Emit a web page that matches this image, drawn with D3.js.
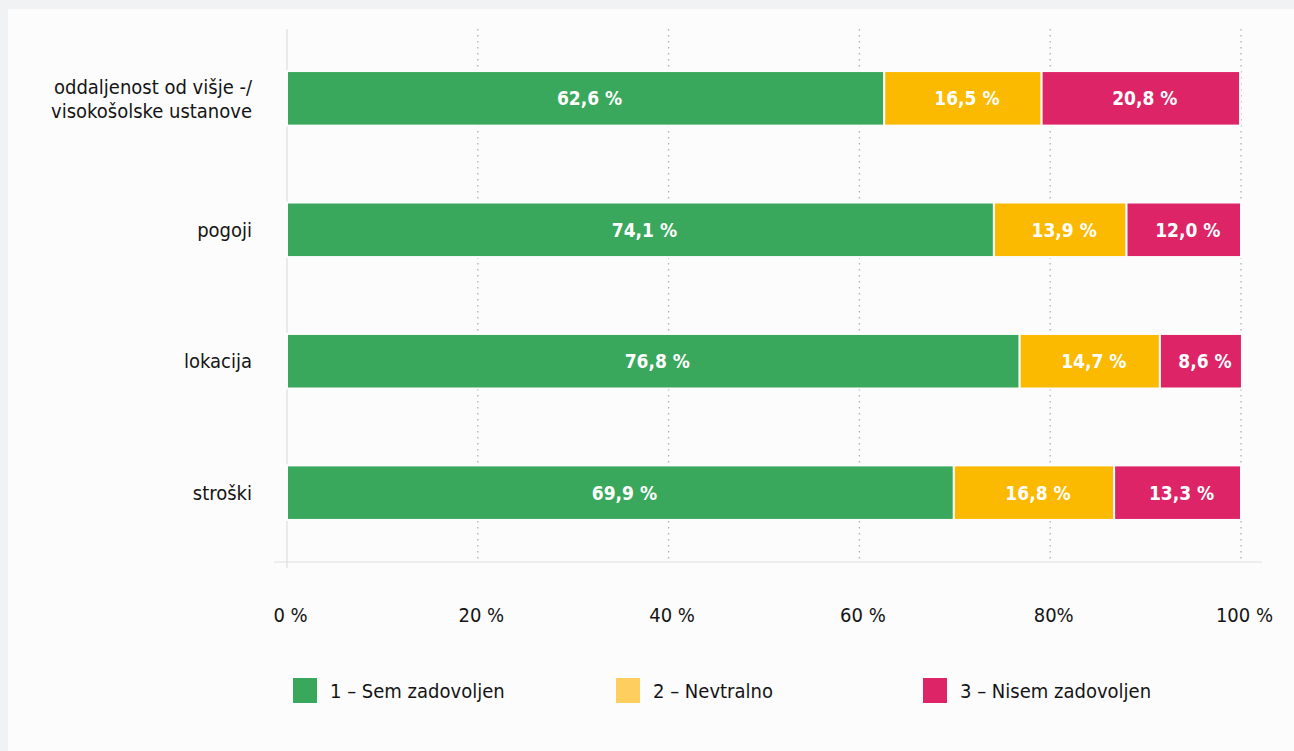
<!DOCTYPE html>
<html>
<head>
<meta charset="utf-8">
<script src="https://cdn.jsdelivr.net/npm/d3@7"></script>
<style>
  html, body { margin: 0; padding: 0; background: #f1f2f4; }
  body { width: 1294px; height: 751px; overflow: hidden; }
  svg { display: block; }
  text { font-family: "DejaVu Sans Condensed", "DejaVu Sans", "Noto Sans", sans-serif; }
</style>
</head>
<body>
<svg id="chart" width="1294" height="751"></svg>
<script>
// Satisfaction with student accommodation, by aspect (shares in %)
const categories = [
  ["oddaljenost od višje -/", "visokošolske ustanove"],
  ["pogoji"],
  ["lokacija"],
  ["stroški"]
];
const seriesNames = ["1 – Sem zadovoljen", "2 – Nevtralno", "3 – Nisem zadovoljen"];
const satisfied    = [62.6, 74.1, 76.8, 69.9];
const neutral      = [16.5, 13.9, 14.7, 16.8];
const dissatisfied = [20.8, 12.0, 8.6, 13.3];
const tickValues = [0, 20, 40, 60, 80, 100];
const tickLabels = ["0 %", "20 %", "40 %", "60 %", "80%", "100 %"];

const barColors    = ["#3aa85c", "#fbb900", "#dd2467"];
const legendColors = ["#3aa85c", "#fecf5e", "#dd2467"];

const keys = ["satisfied", "neutral", "dissatisfied"];
const rows = categories.map((c, i) => ({
  id: c.join(" "),
  lines: c,
  satisfied: satisfied[i],
  neutral: neutral[i],
  dissatisfied: dissatisfied[i]
}));

const svg = d3.select("#chart");

// white card
svg.append("rect")
  .attr("x", 8).attr("y", 9)
  .attr("width", 1294 - 8).attr("height", 751 - 9)
  .attr("fill", "#fcfcfc");

const plot = { left: 287, right: 1241, top: 29, bottom: 562 };

const x = d3.scaleLinear().domain([0, 100]).range([plot.left, plot.right]);
const y = d3.scaleBand()
  .domain(rows.map(d => d.id))
  .range([plot.top, plot.bottom])
  .paddingInner(0.585)
  .paddingOuter(0.32);

// dotted vertical gridlines
svg.append("g")
  .selectAll("line")
  .data(tickValues.filter(v => v > 0))
  .join("line")
  .attr("x1", d => x(d)).attr("x2", d => x(d))
  .attr("y1", plot.top).attr("y2", plot.bottom)
  .attr("stroke", "#b3b5b8")
  .attr("stroke-width", 1.4)
  .attr("stroke-dasharray", "1.5,4.5");

// zero line and baseline
svg.append("line")
  .attr("x1", x(0)).attr("x2", x(0))
  .attr("y1", plot.top).attr("y2", plot.bottom + 6)
  .attr("stroke", "#dcdde0").attr("stroke-width", 1.2);
svg.append("line")
  .attr("x1", 274).attr("x2", 1262)
  .attr("y1", plot.bottom).attr("y2", plot.bottom)
  .attr("stroke", "#dcdde0").attr("stroke-width", 1.2);

// stacked bars
const stack = d3.stack().keys(keys)(rows);

const layers = svg.append("g")
  .selectAll("g")
  .data(stack)
  .join("g")
  .attr("fill", (d, i) => barColors[i]);

layers.selectAll("rect")
  .data(d => d)
  .join("rect")
  .attr("x", d => x(d[0]))
  .attr("y", d => y(d.data.id))
  .attr("width", d => x(d[1]) - x(d[0]))
  .attr("height", y.bandwidth())
  .attr("stroke", "#fcfcfc")
  .attr("stroke-width", 2);

// value labels
const fmt = v => d3.format(".1f")(v).replace(".", ",") + " %";
layers.selectAll("text")
  .data(d => d.map(s => ({ s, key: d.key })))
  .join("text")
  .attr("x", d => (x(d.s[0]) + x(d.s[1])) / 2 + 4)
  .attr("y", d => y(d.s.data.id) + y.bandwidth() / 2)
  .attr("dy", "0.36em")
  .attr("text-anchor", "middle")
  .attr("fill", "#ffffff")
  .attr("font-size", 19)
  .attr("font-weight", "bold")
  .text(d => fmt(d.s.data[d.key]));

// category labels
const catG = svg.append("g")
  .selectAll("text")
  .data(rows)
  .join("text")
  .attr("x", 252)
  .attr("y", d => y(d.id) + y.bandwidth() / 2)
  .attr("text-anchor", "end")
  .attr("fill", "#141414")
  .attr("font-size", 20);
catG.selectAll("tspan")
  .data(d => d.lines.map((t, i) => ({ t, i, n: d.lines.length })))
  .join("tspan")
  .attr("x", 252)
  .attr("dy", d => d.i === 0 ? `${0.36 - (d.n - 1) * 0.6}em` : "1.2em")
  .text(d => d.t);

// x axis tick labels
const xAxis = d3.axisBottom(x)
  .tickValues(tickValues)
  .tickSize(0)
  .tickPadding(0)
  .tickFormat((d, i) => tickLabels[i]);
const axisG = svg.append("g")
  .attr("transform", `translate(0, 615)`)
  .call(xAxis);
axisG.select(".domain").remove();
axisG.selectAll("text")
  .attr("dy", "0.36em")
  .attr("dx", 3)
  .attr("fill", "#141414")
  .attr("font-size", 20)
  .style("font-family", '"DejaVu Sans Condensed", "DejaVu Sans", sans-serif');

// legend
const legendX = [293, 616, 923];
const legend = svg.append("g")
  .selectAll("g")
  .data(seriesNames)
  .join("g")
  .attr("transform", (d, i) => `translate(${legendX[i]}, 678)`);
legend.append("rect")
  .attr("width", 24).attr("height", 25)
  .attr("fill", (d, i) => legendColors[i]);
legend.append("text")
  .attr("x", 37).attr("y", 13)
  .attr("dy", "0.36em")
  .attr("fill", "#141414")
  .attr("font-size", 20)
  .text(d => d);
</script>
</body>
</html>
